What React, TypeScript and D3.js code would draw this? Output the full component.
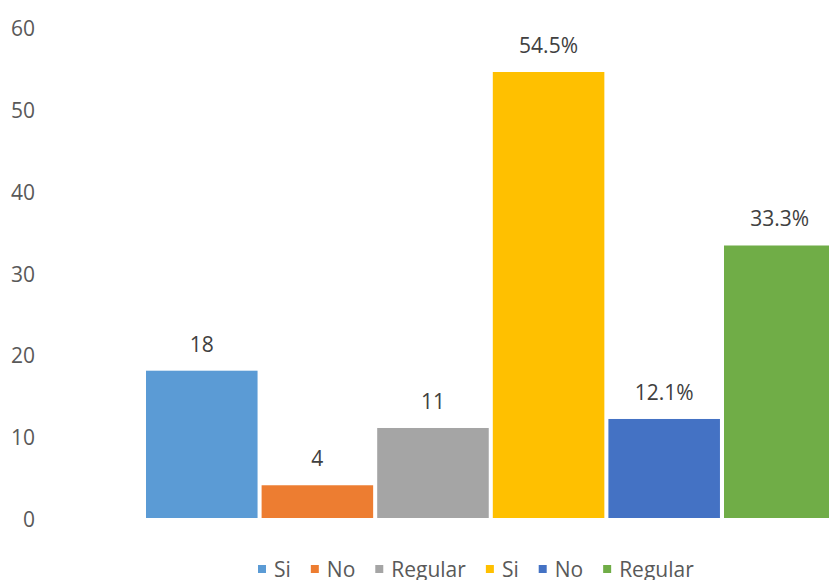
import * as d3 from 'd3'
import { useEffect, useRef } from 'react'

// series names and values (one category, six series)
const seriesNames = ['Si', 'No', 'Regular', 'Si', 'No', 'Regular']
const seriesValues = [18, 4, 11, 54.5, 12.1, 33.3]
const valueLabels = ['18', '4', '11', '54.5%', '12.1%', '33.3%']
const seriesColors = ['#5b9bd5', '#ed7d31', '#a5a5a5', '#ffc000', '#4472c4', '#70ad47']
const yTicks = [0, 10, 20, 30, 40, 50, 60]

const FONT = '"Open Sans", "Liberation Sans", sans-serif'

export default function App() {
  const svgRef = useRef<SVGSVGElement>(null)

  useEffect(() => {
    if (!svgRef.current) return
    document.body.style.margin = '0'

    const width = 829
    const height = 580

    const svg = d3.select(svgRef.current)
    svg.selectAll('*').remove()
    svg.attr('width', width).attr('height', height)

    // scales
    const yScale = d3.scaleLinear().domain([0, 60]).range([518, 27])
    const step = 115.6
    const pad = 0.035
    const xScale = d3
      .scaleBand<number>()
      .domain(d3.range(seriesValues.length))
      .range([146, 146 + step * (seriesValues.length - pad)])
      .paddingInner(pad)
      .paddingOuter(0)

    // y tick labels
    svg
      .append('g')
      .selectAll('text')
      .data(yTicks)
      .enter()
      .append('text')
      .attr('x', 35)
      .attr('y', (d: number) => yScale(d) + 1)
      .attr('text-anchor', 'end')
      .attr('dominant-baseline', 'central')
      .attr('font-family', FONT)
      .attr('font-size', 21)
      .attr('fill', '#595959')
      .text((d: number) => String(d))

    // bars
    svg
      .append('g')
      .selectAll('rect')
      .data(seriesValues)
      .enter()
      .append('rect')
      .attr('x', (_d: number, i: number) => xScale(i) as number)
      .attr('y', (d: number) => yScale(d))
      .attr('width', xScale.bandwidth())
      .attr('height', (d: number) => yScale(0) - yScale(d))
      .attr('fill', (_d: number, i: number) => seriesColors[i])

    // data labels
    svg
      .append('g')
      .selectAll('text')
      .data(seriesValues)
      .enter()
      .append('text')
      .attr('x', (_d: number, i: number) => (xScale(i) as number) + xScale.bandwidth() / 2)
      .attr('y', (d: number) => yScale(d) - 19)
      .attr('text-anchor', 'middle')
      .attr('font-family', FONT)
      .attr('font-size', 21)
      .attr('fill', '#404040')
      .text((_d: number, i: number) => valueLabels[i])

    // legend
    const legend = svg.append('g')
    let x = 258
    seriesNames.forEach((name, i) => {
      legend
        .append('rect')
        .attr('x', x)
        .attr('y', 565)
        .attr('width', 8)
        .attr('height', 8)
        .attr('fill', seriesColors[i])
      const t = legend
        .append('text')
        .attr('x', x + 16)
        .attr('y', 577)
        .attr('font-family', FONT)
        .attr('font-size', 21)
        .attr('fill', '#595959')
        .text(name)
      const w = (t.node() as SVGTextElement).getComputedTextLength()
      x = x + 16 + w + 20
    })
  }, [])

  return <svg ref={svgRef} style={{ display: 'block' }} />
}
